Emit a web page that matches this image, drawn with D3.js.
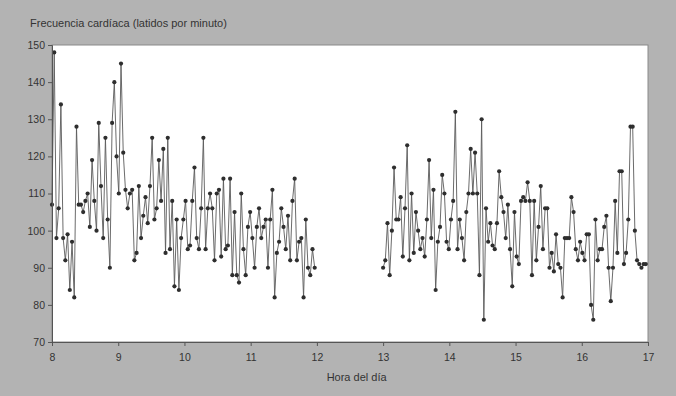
<!DOCTYPE html>
<html>
<head>
<meta charset="utf-8">
<script src="https://cdn.jsdelivr.net/npm/d3@7"></script>
<style>
  body { margin: 0; background: #b3b3b3; }
  svg { display: block; }
  .axis text { font-family: "Liberation Sans", Arial, sans-serif; font-size: 10.5px; fill: #333; }
  .axis path, .axis line { stroke: #555; }
</style>
</head>
<body>
<div id="chart"></div>
<script>
// Heart rate readings, roughly every 2 minutes (morning block and afternoon block)
const morningStart = 8, morningEnd = 11.967;
const morningBpm = [107,148,98,106,134,98,92,99,84,97,82,128,107,107,105,108,110,101,119,108,
  100,129,112,98,125,103,90,129,140,120,110,145,121,111,106,110,111,92,
  94,112,98,104,109,102,112,125,103,106,119,108,122,94,125,95,108,85,103,84,
  98,103,108,95,96,108,117,98,95,106,125,95,106,110,106,92,110,111,93,114,
  95,96,114,88,105,88,86,110,95,88,101,105,98,90,101,106,98,101,103,90,
  103,111,82,94,97,106,101,95,104,92,108,114,92,97,98,82,103,90,88,95,90];

const afternoonStart = 13, afternoonEnd = 16.967;
const afternoonBpm = [90,92,102,88,100,117,103,103,109,93,106,123,92,110,94,105,100,95,98,93,
  103,119,98,111,84,97,101,115,110,97,95,103,108,132,95,103,98,92,105,110,
  122,110,121,110,88,130,76,106,97,102,96,95,102,116,109,105,98,107,
  95,85,105,93,91,108,109,108,113,108,88,108,92,101,112,95,106,106,90,94,
  89,99,91,90,82,98,98,98,109,105,95,92,97,94,92,99,99,80,76,103,
  92,95,95,101,104,90,81,90,108,94,116,116,91,94,103,128,128,100,92,91,
  90,91,91];

const hourTicks = [8, 9, 10, 11, 12, 13, 14, 15, 16, 17];
const bpmTicks = [70, 80, 90, 100, 110, 120, 130, 140, 150];

const margin = { top: 45, right: 28, bottom: 54, left: 52 };
const width = 676 - margin.left - margin.right;
const height = 396 - margin.top - margin.bottom;

const svg = d3.select("#chart")
    .append("svg")
    .attr("width", 676)
    .attr("height", 396);

const g = svg.append("g")
    .attr("transform", `translate(${margin.left},${margin.top})`);

const x = d3.scaleLinear().domain([8, 17]).range([0, width]);
const y = d3.scaleLinear().domain([70, 150]).range([height, 0]);

// plot background
g.append("rect")
    .attr("width", width)
    .attr("height", height)
    .attr("fill", "#fff")
    .attr("stroke", "#8a8a8a")
    .attr("stroke-width", 1);

// spread each block's readings evenly over its time span
function toPoints(start, end, values) {
    const step = (end - start) / (values.length - 1);
    return values.map((v, i) => ({ t: start + i * step, v: v }));
}
const blocks = [
    toPoints(morningStart, morningEnd, morningBpm),
    toPoints(afternoonStart, afternoonEnd, afternoonBpm)
];

const line = d3.line()
    .x(d => x(d.t))
    .y(d => y(d.v));

blocks.forEach(pts => {
    g.append("path")
        .datum(pts)
        .attr("fill", "none")
        .attr("stroke", "#5a5a5a")
        .attr("stroke-width", 0.9)
        .attr("d", line);

    g.selectAll(null)
        .data(pts)
        .enter().append("circle")
        .attr("cx", d => x(d.t))
        .attr("cy", d => y(d.v))
        .attr("r", 2.1)
        .attr("fill", "#2e2e2e");
});

// axes
g.append("g")
    .attr("class", "axis")
    .attr("transform", `translate(0,${height})`)
    .call(d3.axisBottom(x).tickValues(hourTicks).tickFormat(d3.format("d")).tickSizeOuter(0).tickSize(4))
    .selectAll("text").attr("dy", "1.1em");

g.append("g")
    .attr("class", "axis")
    .call(d3.axisLeft(y).tickValues(bpmTicks).tickSizeOuter(0).tickSize(4));

// titles
svg.append("text")
    .attr("x", 30)
    .attr("y", 27)
    .attr("font-family", "Liberation Sans, Arial, sans-serif")
    .attr("font-size", 11)
    .attr("fill", "#333")
    .text("Frecuencia cardíaca (latidos por minuto)");

svg.append("text")
    .attr("x", margin.left + x(12.6))
    .attr("y", 381)
    .attr("text-anchor", "middle")
    .attr("font-family", "Liberation Sans, Arial, sans-serif")
    .attr("font-size", 11)
    .attr("fill", "#333")
    .text("Hora del día");
</script>
</body>
</html>
